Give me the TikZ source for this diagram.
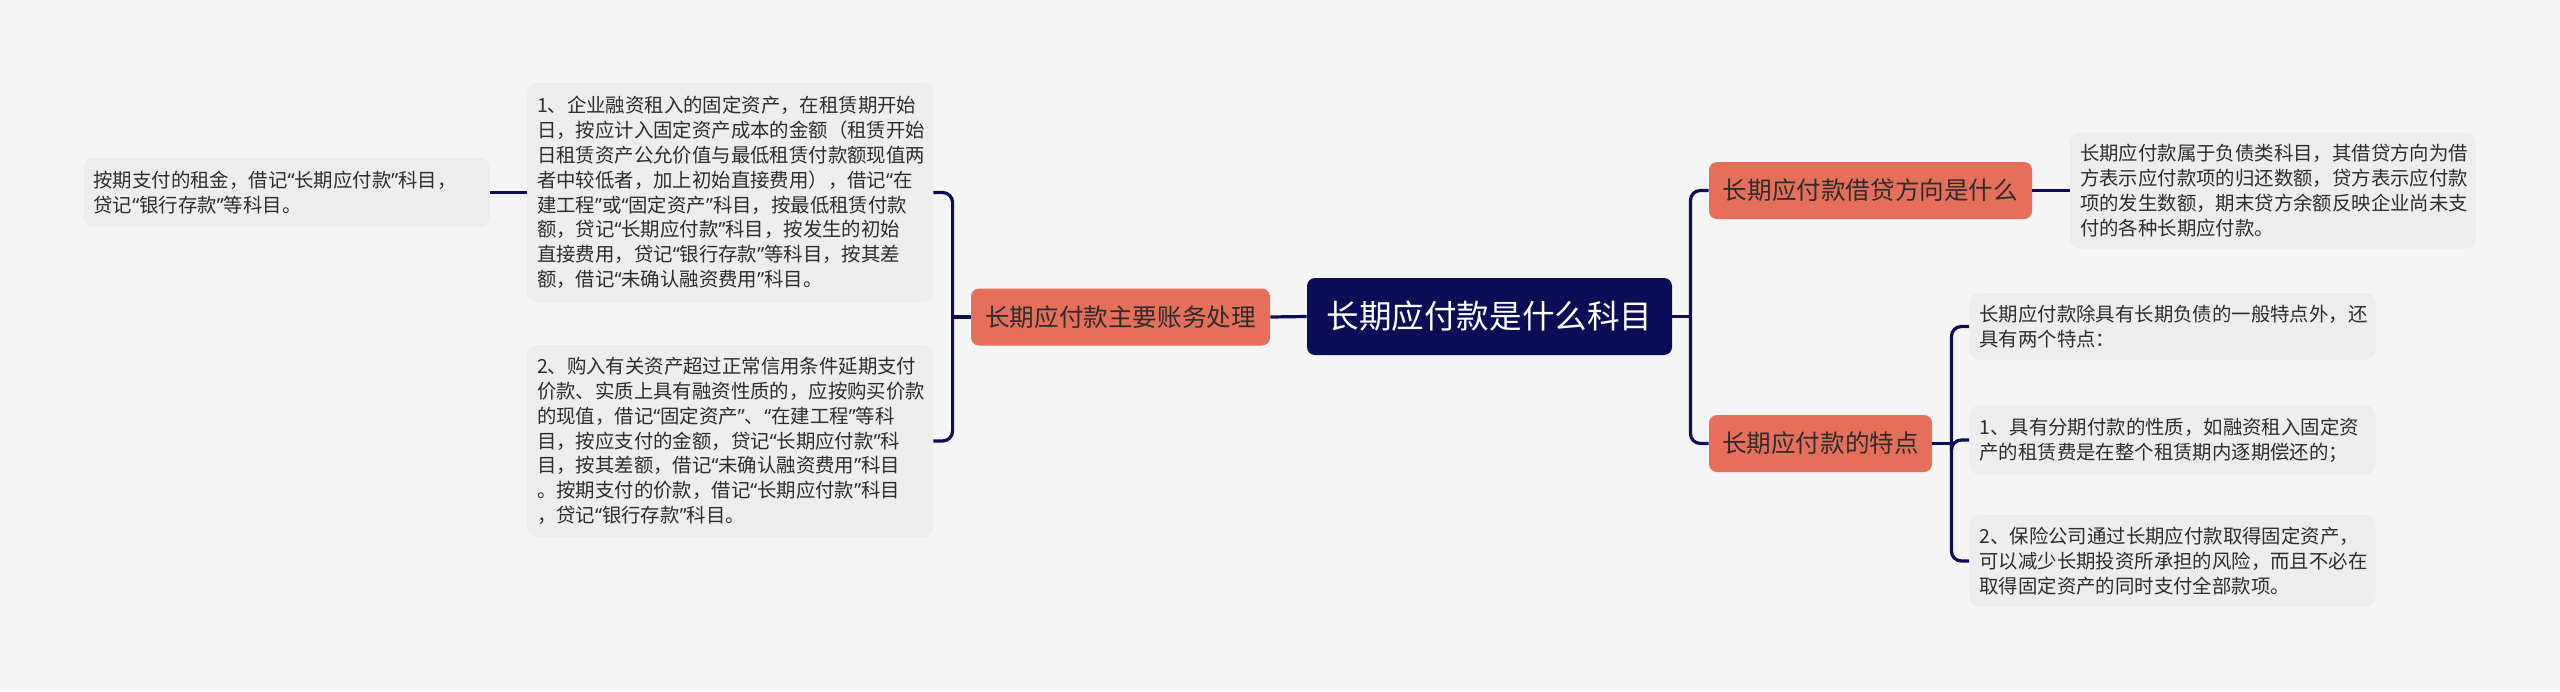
\documentclass[tikz,border=0pt]{standalone}
\usepackage{fontspec}
\setmainfont{Noto Sans CJK SC}
\newfontfamily\quotefont{Noto Sans}
\newcommand{\qt}[1]{{\quotefont “}#1{\quotefont ”}}
\usetikzlibrary{positioning}
\definecolor{PageGray}{RGB}{245,245,245}
\definecolor{LeafGray}{RGB}{237,237,237}
\definecolor{RootNavy}{RGB}{11,14,86}
\definecolor{BranchOrange}{RGB}{229,111,91}
\definecolor{InkGray}{RGB}{45,45,45}

\begin{document}
\begin{tikzpicture}[x=0.5pt,y=-0.5pt,
    root/.style={fill=RootNavy,text=white,rounded corners=4pt,minimum width=182.5pt,minimum height=38.5pt,font=\fontsize{16.3}{20}\selectfont},
    branch/.style={fill=BranchOrange,text=InkGray,rounded corners=4pt,minimum height=28.5pt,font=\fontsize{12.3}{15}\selectfont},
    leaf/.style={fill=LeafGray,text=InkGray,rounded corners=5pt,text width=193pt,inner xsep=5pt,align=left,font=\fontsize{9.7}{12.4}\selectfont},
    link/.style={draw=RootNavy,line width=1.6pt,rounded corners=5pt}]
  \useasboundingbox (0,0) rectangle (2560,691);
  \fill[PageGray] (0,0) rectangle (2560,691);

  \node[root] (root) at (1489.5,316.5) {长期应付款是什么科目};
  \node[branch,minimum width=149.5pt] (acct) at (1120.5,317) {长期应付款主要账务处理};
  \node[branch,minimum width=161.5pt] (dir) at (1870.5,190.5) {长期应付款借贷方向是什么};
  \node[branch,minimum width=111.5pt] (feat) at (1820.5,443.5) {长期应付款的特点};

  \node[leaf,minimum height=109.5pt] (acct1) at (730,192.5) {1、企业融资租入的固定资产，在租赁期开始\\日，按应计入固定资产成本的金额（租赁开始\\日租赁资产公允价值与最低租赁付款额现值两\\者中较低者，加上初始直接费用），借记{\quotefont “}在\\建工程{\quotefont ”}或\qt{固定资产}科目，按最低租赁付款\\额，贷记\qt{长期应付款}科目，按发生的初始\\直接费用，贷记\qt{银行存款}等科目，按其差\\额，借记\qt{未确认融资费用}科目。};
  \node[leaf,minimum height=96pt] (acct2) at (730,441) {2、购入有关资产超过正常信用条件延期支付\\价款、实质上具有融资性质的，应按购买价款\\的现值，借记\qt{固定资产}、\qt{在建工程}等科\\目，按应支付的金额，贷记\qt{长期应付款}科\\目，按其差额，借记\qt{未确认融资费用}科目\\。按期支付的价款，借记\qt{长期应付款}科目\\，贷记\qt{银行存款}科目。};
  \node[leaf,minimum height=34.5pt] (pay) at (286.5,192.5) {按期支付的租金，借记\qt{长期应付款}科目，\\贷记\qt{银行存款}等科目。};

  \node[leaf,minimum height=58pt] (dirtxt) at (2273,190.5) {长期应付款属于负债类科目，其借贷方向为借\\方表示应付款项的归还数额，贷方表示应付款\\项的发生数额，期末贷方余额反映企业尚未支\\付的各种长期应付款。};
  \node[leaf,minimum height=33.5pt] (feat0) at (2172.5,326.5) {长期应付款除具有长期负债的一般特点外，还\\具有两个特点：};
  \node[leaf,minimum height=34.5pt] (feat1) at (2172.5,440) {1、具有分期付款的性质，如融资租入固定资\\产的租赁费是在整个租赁期内逐期偿还的；};
  \node[leaf,minimum height=46pt] (feat2) at (2172.5,561) {2、保险公司通过长期应付款取得固定资产，\\可以减少长期投资所承担的风险，而且不必在\\取得固定资产的同时支付全部款项。};

  \draw[link] (root.west) -- (acct.east);
  \draw[link] (acct.west) -- ++(-18,0) coordinate (acctJ);
  \draw[link] (acctJ) |- (acct1.east);
  \draw[link] (acctJ) |- (acct2.east);
  \draw[link] (acct1.west) -- (pay.east);

  \draw[link] (root.east) -- ++(18,0) coordinate (rootJ);
  \draw[link] (rootJ) |- (dir.west);
  \draw[link] (rootJ) |- (feat.west);
  \draw[link] (dir.east) -- (dirtxt.west);

  \draw[link] (feat.east) -- ++(19,0) coordinate (featJ);
  \draw[link] (featJ) |- (feat0.west);
  \draw[link] (featJ) |- (feat1.west);
  \draw[link] (featJ) |- (feat2.west);
\end{tikzpicture}
\end{document}
